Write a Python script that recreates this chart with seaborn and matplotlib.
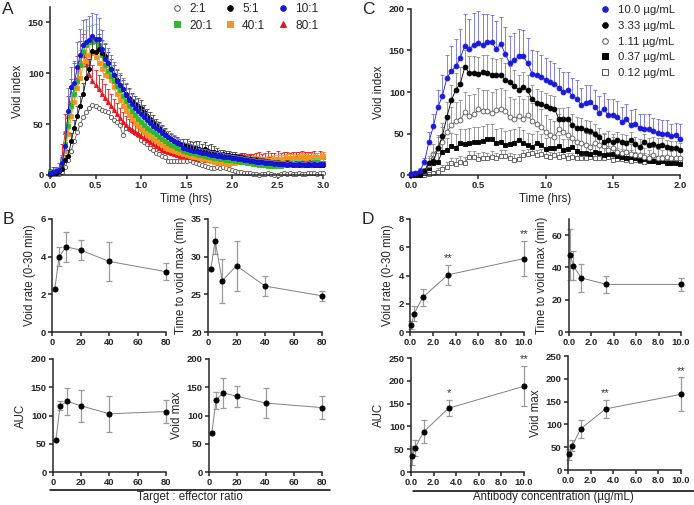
import numpy as np
import matplotlib
matplotlib.use("Agg")
import matplotlib.pyplot as plt
import seaborn as sns
from matplotlib.lines import Line2D

# ---------------- Panel A: void index over time (target:effector ratio) ----------------
minutes_a = list(range(0, 182, 2))  # one reading every 2 min, 0-180 min

void_2to1 = [0, 1, 1, 1, 3, 8, 15, 24, 33, 42,
             50, 57, 62, 66, 69, 68, 66, 64, 63, 62,
             57, 54, 52, 49, 39, 46, 45, 43, 41, 39,
             34, 32, 30, 27, 25, 22, 21, 19, 18, 14,
             14, 14, 14, 14, 14, 14, 15, 13, 12, 11,
             10, 9, 8, 7, 7, 8, 7, 8, 7, 6,
             5, 4, 3, 3, 2, 2, 2, 1, 1, 0,
             1, 1, 2, 1, 0, 0, 1, 2, 1, 2,
             1, 1, 2, 1, 1, 2, 2, 2, 1, 2,
             2]
void_5to1 = [1, 2, 2, 4, 6, 15, 19, 33, 46, 58,
             68, 80, 95, 104, 122, 121, 124, 120, 117, 110,
             104, 98, 93, 88, 84, 80, 76, 73, 70, 68,
             66, 62, 58, 55, 52, 49, 46, 43, 40, 37,
             35, 33, 32, 30, 29, 29, 28, 27, 27, 26,
             25, 26, 24, 23, 23, 22, 21, 21, 20, 20,
             19, 19, 18, 18, 17, 16, 16, 15, 15, 14,
             14, 13, 13, 12, 12, 12, 11, 11, 12, 11,
             10, 11, 10, 11, 10, 10, 11, 10, 10, 10,
             10]
void_10to1 = [2, 3, 4, 5, 12, 28, 63, 86, 90, 106,
              118, 128, 131, 133, 137, 134, 134, 124, 114, 110,
              104, 98, 92, 88, 84, 79, 74, 70, 66, 63,
              60, 57, 54, 51, 48, 46, 44, 41, 39, 37,
              35, 33, 31, 30, 27, 26, 25, 24, 24, 23,
              22, 22, 21, 20, 20, 19, 19, 18, 18, 18,
              17, 17, 16, 16, 15, 15, 14, 14, 13, 13,
              13, 12, 12, 12, 11, 11, 11, 11, 10, 11,
              10, 10, 11, 10, 10, 11, 10, 11, 10, 11,
              11]
void_20to1 = [3, 3, 4, 5, 14, 30, 48, 68, 80, 92,
              108, 121, 128, 131, 131, 132, 128, 118, 108, 102,
              97, 92, 87, 83, 78, 73, 68, 63, 59, 55,
              52, 49, 46, 44, 42, 40, 37, 35, 33, 31,
              29, 28, 27, 26, 24, 23, 22, 22, 21, 20,
              20, 19, 18, 18, 17, 17, 16, 16, 15, 15,
              15, 14, 14, 13, 13, 12, 12, 11, 11, 10,
              10, 10, 9, 9, 9, 9, 9, 10, 10, 10,
              11, 11, 11, 12, 12, 12, 12, 13, 13, 12,
              12]
void_40to1 = [2, 2, 3, 4, 10, 24, 40, 58, 72, 85,
              95, 108, 112, 118, 120, 116, 110, 104, 98, 97,
              93, 86, 80, 74, 68, 63, 59, 55, 51, 48,
              45, 42, 39, 37, 35, 33, 31, 29, 27, 26,
              25, 24, 23, 22, 21, 20, 19, 18, 18, 17,
              16, 16, 15, 14, 13, 13, 12, 12, 11, 11,
              12, 12, 13, 13, 14, 14, 14, 15, 15, 15,
              14, 14, 15, 15, 16, 16, 16, 16, 17, 17,
              17, 16, 17, 18, 17, 18, 18, 17, 18, 18,
              19]
void_80to1 = [3, 4, 4, 6, 18, 42, 58, 72, 86, 95,
              112, 118, 110, 98, 92, 88, 84, 80, 76, 72,
              68, 64, 60, 56, 52, 49, 46, 44, 42, 40,
              38, 36, 34, 32, 30, 28, 27, 25, 24, 23,
              22, 21, 20, 19, 19, 18, 18, 17, 17, 16,
              16, 15, 15, 15, 14, 14, 14, 14, 14, 15,
              15, 15, 15, 16, 16, 16, 15, 16, 16, 17,
              16, 16, 17, 17, 16, 17, 17, 17, 18, 16,
              17, 18, 17, 17, 18, 17, 18, 18, 17, 18,
              18]

err_2to1 = [0] * len(void_2to1)  # no error bars shown for 2:1
err_5to1 = [1, 1, 1, 2, 3, 5, 6, 8, 8, 10,
            10, 10, 12, 10, 12, 12, 14, 13, 12, 11,
            10, 10, 10, 10, 9, 9, 9, 8, 8, 8,
            8, 7, 7, 7, 7, 6, 6, 6, 6, 6,
            5, 5, 5, 5, 6, 6, 5, 5, 6, 7,
            5, 6, 5, 7, 5, 5, 4, 4, 4, 4,
            4, 4, 3, 4, 3, 3, 4, 3, 3, 3,
            3, 3, 3, 3, 3, 3, 3, 3, 3, 3,
            3, 3, 3, 3, 3, 3, 3, 3, 3, 3,
            3]
err_10to1 = [2, 2, 3, 3, 8, 15, 22, 20, 22, 25,
             25, 24, 22, 23, 22, 24, 20, 18, 16, 15,
             14, 13, 12, 12, 11, 11, 10, 10, 9, 9,
             9, 8, 8, 8, 7, 7, 7, 7, 6, 6,
             6, 6, 5, 5, 5, 5, 5, 5, 5, 4,
             4, 4, 4, 4, 4, 4, 4, 4, 3, 3,
             3, 3, 3, 3, 3, 3, 3, 3, 3, 3,
             3, 3, 3, 3, 3, 3, 3, 3, 3, 3,
             3, 3, 3, 3, 3, 3, 3, 3, 3, 3,
             3]
err_20to1 = [2, 2, 2, 3, 6, 10, 12, 12, 14, 14,
             15, 15, 14, 15, 16, 16, 15, 14, 12, 11,
             10, 9, 9, 9, 8, 8, 8, 7, 7, 7,
             7, 6, 6, 6, 6, 6, 5, 5, 5, 5,
             5, 5, 4, 4, 4, 4, 5, 4, 5, 4,
             4, 4, 4, 4, 4, 4, 4, 4, 3, 3,
             3, 4, 3, 4, 3, 4, 3, 4, 3, 4,
             4, 4, 4, 4, 4, 4, 4, 4, 4, 4,
             4, 4, 4, 4, 4, 4, 4, 4, 4, 4,
             4]
err_40to1 = [2, 2, 2, 3, 6, 10, 12, 14, 15, 15,
             16, 16, 15, 15, 14, 14, 13, 13, 12, 12,
             11, 10, 10, 9, 9, 8, 8, 8, 7, 7,
             7, 6, 6, 6, 6, 5, 5, 5, 5, 5,
             5, 4, 4, 4, 4, 4, 4, 4, 4, 4,
             4, 4, 4, 3, 3, 3, 3, 3, 3, 3,
             3, 3, 3, 3, 3, 4, 4, 4, 4, 4,
             4, 4, 4, 4, 4, 4, 4, 4, 4, 4,
             4, 4, 4, 4, 4, 4, 4, 4, 4, 4,
             4]
err_80to1 = [3, 4, 4, 6, 12, 18, 20, 22, 24, 22,
             20, 20, 18, 16, 16, 15, 14, 14, 13, 12,
             12, 11, 11, 10, 10, 9, 9, 8, 8, 8,
             7, 7, 7, 6, 6, 6, 6, 5, 5, 5,
             5, 5, 5, 5, 5, 4, 4, 4, 4, 4,
             4, 4, 4, 4, 4, 4, 5, 5, 5, 5,
             5, 5, 5, 5, 6, 5, 6, 5, 6, 6,
             5, 6, 7, 5, 6, 7, 5, 6, 5, 6,
             6, 5, 6, 7, 5, 6, 5, 6, 5, 6,
             5]

# ---------------- Panel C: void index over time (antibody dose) ----------------
minutes_c = list(range(0, 122, 2))  # one reading every 2 min, 0-120 min

void_10ug = [1, 3, 5, 16, 40, 59, 82, 95, 117, 125,
             131, 141, 156, 152, 157, 159, 157, 160, 160, 152,
             158, 146, 135, 138, 143, 143, 135, 122, 121, 118,
             115, 112, 110, 105, 100, 102, 95, 92, 84, 87,
             88, 82, 75, 79, 72, 72, 70, 64, 68, 60,
             62, 57, 56, 56, 53, 51, 50, 50, 47, 48,
             43]
void_333ug = [1, 1, 1, 5, 15, 17, 32, 47, 70, 90,
              103, 110, 130, 123, 123, 122, 124, 123, 121, 120,
              121, 115, 112, 107, 103, 106, 102, 91, 87, 85,
              83, 81, 80, 67, 67, 68, 60, 57, 57, 54,
              53, 50, 46, 40, 42, 40, 42, 40, 38, 42,
              37, 34, 40, 36, 37, 35, 36, 34, 33, 33,
              30]
void_111ug = [1, 1, 2, 4, 12, 25, 32, 40, 52, 60,
              65, 66, 76, 71, 73, 79, 77, 77, 75, 78,
              79, 77, 70, 68, 71, 68, 72, 65, 62, 58,
              52, 48, 46, 55, 52, 48, 44, 40, 38, 36,
              34, 38, 36, 35, 30, 33, 28, 27, 28, 25,
              24, 24, 22, 20, 24, 21, 20, 22, 20, 21,
              21]
void_037ug = [0, 0, 0, 2, 8, 14, 16, 28, 30, 35,
              33, 38, 37, 39, 40, 40, 41, 43, 43, 38,
              40, 36, 37, 39, 42, 38, 36, 34, 38, 36,
              31, 33, 32, 35, 30, 31, 34, 29, 26, 27,
              25, 28, 27, 24, 25, 25, 23, 22, 21, 22,
              20, 18, 19, 17, 17, 16, 17, 15, 15, 15,
              13]
void_012ug = [0, 0, 0, 0, 1, 2, 4, 7, 10, 14,
              13, 16, 15, 22, 22, 19, 21, 20, 22, 20,
              23, 23, 20, 18, 19, 24, 25, 26, 24, 25,
              23, 22, 24, 22, 23, 21, 22, 21, 20, 21,
              22, 20, 21, 20, 22, 18, 19, 19, 18, 17,
              18, 17, 16, 18, 17, 16, 17, 16, 17, 16,
              16]

err_10ug = [1, 2, 3, 5, 12, 15, 20, 25, 28, 30,
            33, 35, 38, 36, 38, 39, 37, 34, 33, 33,
            32, 32, 32, 33, 33, 32, 30, 28, 28, 27,
            26, 25, 25, 24, 24, 22, 22, 22, 21, 21,
            20, 20, 20, 20, 19, 19, 19, 18, 18, 18,
            18, 17, 17, 17, 16, 16, 16, 16, 15, 15,
            18]
err_333ug = [1, 1, 1, 3, 8, 10, 14, 16, 18, 18,
             20, 20, 20, 20, 20, 20, 20, 21, 20, 20,
             20, 20, 19, 19, 18, 18, 18, 17, 17, 16,
             16, 15, 15, 14, 14, 14, 13, 13, 12, 12,
             12, 12, 11, 11, 11, 10, 10, 10, 10, 10,
             9, 9, 9, 9, 9, 9, 8, 8, 8, 8,
             8]
err_111ug = [1, 1, 2, 3, 8, 12, 16, 18, 20, 22,
             23, 24, 24, 25, 25, 26, 26, 26, 25, 26,
             26, 25, 24, 24, 24, 23, 23, 22, 22, 21,
             20, 19, 19, 18, 18, 17, 17, 16, 16, 15,
             15, 15, 14, 14, 13, 13, 13, 12, 12, 12,
             11, 11, 11, 10, 10, 10, 10, 9, 9, 9,
             9]
err_037ug = [0, 0, 1, 2, 5, 8, 10, 13, 15, 16,
             17, 17, 18, 18, 18, 18, 18, 18, 18, 17,
             17, 17, 17, 16, 16, 16, 15, 15, 15, 14,
             14, 14, 13, 13, 13, 12, 12, 12, 11, 11,
             11, 10, 10, 10, 10, 9, 9, 9, 9, 8,
             8, 8, 8, 8, 7, 7, 7, 7, 7, 6,
             6]
err_012ug = [0, 0, 0, 1, 2, 3, 4, 5, 6, 6,
             7, 7, 7, 7, 7, 7, 7, 7, 7, 7,
             7, 7, 7, 7, 6, 6, 6, 6, 6, 6,
             6, 6, 6, 6, 5, 5, 5, 5, 5, 5,
             5, 5, 5, 5, 5, 4, 4, 4, 4, 4,
             4, 4, 4, 4, 4, 4, 4, 4, 4, 4,
             4]

# ---------------- Panel B: summary vs target:effector ratio ----------------
ratio = [2, 5, 10, 20, 40, 80]
b_void_rate = [2.3, 4.0, 4.52, 4.35, 3.75, 3.2]
b_void_rate_err = [0, 0.5, 0.8, 0.55, 1.02, 0.45]
b_time_max = [28.4, 32.1, 26.8, 28.8, 26.1, 24.8]
b_time_max_err = [0, 1.8, 2.9, 3.3, 1.3, 0.65]
b_auc = [56, 117, 125, 117, 103, 107]
b_auc_err = [0, 8, 24, 28, 32, 20]
b_void_max = [69, 127, 140, 134, 122, 114]
b_void_max_err = [0, 15, 26, 19, 27, 21]

# ---------------- Panel D: summary vs antibody concentration ----------------
conc = [0.12, 0.37, 1.11, 3.33, 10.0]
d_void_rate = [0.5, 1.3, 2.45, 4.05, 5.2]
d_void_rate_err = [0.3, 0.55, 0.6, 0.7, 1.25]
d_void_rate_sig = ["", "", "", "**", "**"]
d_time_max = [48, 41, 33.5, 29.5, 29.5]
d_time_max_err = [16, 9, 8.5, 5.5, 3.8]
d_time_max_sig = ["", "", "", "", ""]
d_auc = [36, 53, 88, 140, 188]
d_auc_err = [20, 17, 25, 18, 44]
d_auc_sig = ["", "", "", "*", "**"]
d_void_max = [35, 53, 90, 134, 166]
d_void_max_err = [12, 12, 20, 19, 37]
d_void_max_sig = ["", "", "", "**", "**"]

# ---------------- style ----------------
sns.set_style("ticks")
plt.rcParams["font.family"] = ["Liberation Sans", "DejaVu Sans"]
plt.rcParams["axes.linewidth"] = 1.1

W, H = 694, 505
fig = plt.figure(figsize=(W / 100, H / 100), dpi=100)


def add_ax(x0, x1, ytop, ybot):
    # axes placed in pixel coordinates of the reference
    return fig.add_axes([x0 / W, 1 - ybot / H, (x1 - x0) / W, (ybot - ytop) / H])


def style_ax(ax, xlim, xticks, xlabels, ylim, yticks, ylabel, xlabel=None):
    sns.despine(ax=ax)
    ax.set_xlim(*xlim)
    ax.set_ylim(*ylim)
    ax.set_xticks(xticks)
    ax.set_xticklabels(xlabels)
    ax.set_yticks(yticks)
    ax.set_yticklabels([str(t) for t in yticks])
    ax.tick_params(direction="out", length=3, width=1.1, pad=1.5, labelsize=6.8)
    for lbl in ax.get_xticklabels() + ax.get_yticklabels():
        lbl.set_fontweight("bold")
    ax.set_ylabel(ylabel, fontsize=8.3, labelpad=3)
    if xlabel:
        ax.set_xlabel(xlabel, fontsize=8.3, labelpad=2)


def time_series(ax, t, y, err, color, marker, face, edge, ecolor, ms, z):
    yerr = [np.zeros(len(err)), err]
    ax.errorbar(t, y, yerr=yerr, fmt="none", ecolor=ecolor, elinewidth=0.6,
                capsize=1.5, capthick=0.6, zorder=z, clip_on=False)
    sns.lineplot(x=t, y=y, ax=ax, color=color, linewidth=0.6, marker=marker,
                 markersize=ms, markerfacecolor=face, markeredgecolor=edge,
                 markeredgewidth=0.6, errorbar=None, zorder=z + 0.5, clip_on=False)


def summary(ax, x, y, err, sig, star_off):
    keep = [i for i in range(len(err)) if err[i] > 0]
    ax.errorbar([x[i] for i in keep], [y[i] for i in keep], yerr=[err[i] for i in keep],
                fmt="none", ecolor="#9a9a9a", elinewidth=0.9, capsize=2.3, capthick=0.9,
                zorder=2, clip_on=False)
    sns.lineplot(x=x, y=y, ax=ax, color="#808080", linewidth=0.7, marker="o", markersize=3.6,
                 markerfacecolor="black", markeredgecolor="black", errorbar=None,
                 zorder=3, clip_on=False)
    for xi, yi, ei, s in zip(x, y, err, sig):
        if s:
            ax.text(xi, yi + ei + star_off, s, ha="center", va="bottom", fontsize=8, color="#333333")


# ---------- A ----------
t_a = [m / 60 for m in minutes_a]
axA = add_ax(50, 323, 7, 175)
blue, green, orange, red = "#1414d8", "#2eb82e", "#f7941d", "#e8141e"
time_series(axA, t_a, void_2to1, err_2to1, "#555555", "o", "white", "#555555", "#999999", 3, 1)
time_series(axA, t_a, void_80to1, err_80to1, red, "^", red, red, red, 3, 2)
time_series(axA, t_a, void_40to1, err_40to1, orange, "s", orange, orange, orange, 2.7, 3)
time_series(axA, t_a, void_20to1, err_20to1, green, "s", green, green, "#6fcf6f", 2.7, 4)
time_series(axA, t_a, void_5to1, err_5to1, "black", "o", "black", "black", "#444444", 3, 5)
time_series(axA, t_a, void_10to1, err_10to1, blue, "o", blue, blue, "#6a6ae8", 3, 6)
style_ax(axA, (0, 3), [0, 0.5, 1, 1.5, 2, 2.5, 3], ["0.0", "0.5", "1.0", "1.5", "2.0", "2.5", "3.0"],
         (0, 165), [0, 50, 100, 150], "Void index", "Time (hrs)")

a_labels = ["2:1", "20:1", "5:1", "40:1", "10:1", "80:1"]
a_style = [("o", "white", "#555555"), ("s", green, green), ("o", "black", "black"),
           ("s", orange, orange), ("o", blue, blue), ("^", red, red)]
a_handles = [Line2D([], [], ls="none", marker=m, markersize=4, markerfacecolor=f,
                    markeredgecolor=e, markeredgewidth=0.7) for m, f, e in a_style]
axA.legend(a_handles, a_labels, ncol=3, loc="upper right", bbox_to_anchor=(1.0, 1.05),
           frameon=False, fontsize=8.6, handlelength=0.8, handletextpad=0.6,
           columnspacing=1.1, labelspacing=0.35, borderaxespad=0)

# ---------- C ----------
t_c = [m / 60 for m in minutes_c]
axC = add_ax(411, 680, 9, 175)
grey_e = "#8a8a8a"
time_series(axC, t_c, void_012ug, err_012ug, "#555555", "s", "white", "#555555", grey_e, 3.2, 1)
time_series(axC, t_c, void_037ug, err_037ug, "black", "s", "black", "black", grey_e, 3.2, 2)
time_series(axC, t_c, void_111ug, err_111ug, "#555555", "o", "white", "#555555", grey_e, 3.5, 3)
time_series(axC, t_c, void_333ug, err_333ug, "black", "o", "black", "black", grey_e, 3.5, 4)
time_series(axC, t_c, void_10ug, err_10ug, "#1a1adb", "o", "#1a1adb", "#1a1adb", "#6b6be6", 3.5, 5)
style_ax(axC, (0, 2), [0, 0.5, 1, 1.5, 2], ["0.0", "0.5", "1.0", "1.5", "2.0"],
         (0, 200), [0, 50, 100, 150, 200], "Void index", "Time (hrs)")

c_labels = ["10.0 µg/mL", "3.33 µg/mL", "1.11 µg/mL", "0.37 µg/mL", "0.12 µg/mL"]
c_style = [("o", "#1a1adb", "#1a1adb"), ("o", "black", "black"), ("o", "white", "#555555"),
           ("s", "black", "black"), ("s", "white", "#555555")]
c_handles = [Line2D([], [], ls="none", marker=m, markersize=4, markerfacecolor=f,
                    markeredgecolor=e, markeredgewidth=0.7) for m, f, e in c_style]
axC.legend(c_handles, c_labels, loc="upper right", bbox_to_anchor=(1.0, 1.05),
           frameon=False, fontsize=8.2, handlelength=0.8, handletextpad=0.8,
           labelspacing=0.5, borderaxespad=0)

# ---------- B ----------
b_xt = [0, 20, 40, 60, 80]
b_xl = [str(v) for v in b_xt]
ax = add_ax(52, 166, 219, 332)
summary(ax, ratio, b_void_rate, b_void_rate_err, [""] * 6, 0)
style_ax(ax, (0, 80), b_xt, b_xl, (0, 6), [0, 2, 4, 6], "Void rate (0-30 min)")
ax = add_ax(208, 322, 219, 332)
summary(ax, ratio, b_time_max, b_time_max_err, [""] * 6, 0)
style_ax(ax, (0, 80), b_xt, b_xl, (20, 35), [20, 25, 30, 35], "Time to void max (min)")
ax = add_ax(53, 166, 359, 472)
summary(ax, ratio, b_auc, b_auc_err, [""] * 6, 0)
style_ax(ax, (0, 80), b_xt, b_xl, (0, 200), [0, 50, 100, 150, 200], "AUC")
ax = add_ax(209, 322, 359, 472)
summary(ax, ratio, b_void_max, b_void_max_err, [""] * 6, 0)
style_ax(ax, (0, 80), b_xt, b_xl, (0, 200), [0, 50, 100, 150, 200], "Void max")

# ---------- D ----------
d_xt = [0, 2, 4, 6, 8, 10]
d_xl = ["0.0", "2.0", "4.0", "6.0", "8.0", "10.0"]
ax = add_ax(410, 524, 219, 332)
summary(ax, conc, d_void_rate, d_void_rate_err, d_void_rate_sig, 0.12)
style_ax(ax, (0, 10), d_xt, d_xl, (0, 8), [0, 2, 4, 6, 8], "Void rate (0-30 min)")
ax = add_ax(569, 681, 219, 332)
summary(ax, conc, d_time_max, d_time_max_err, d_time_max_sig, 1)
style_ax(ax, (0, 10), d_xt, d_xl, (0, 70), [0, 20, 40, 60], "Time to void max (min)")
ax = add_ax(411, 524, 358, 472)
summary(ax, conc, d_auc, d_auc_err, d_auc_sig, 4)
style_ax(ax, (0, 10), d_xt, d_xl, (0, 250), [0, 50, 100, 150, 200, 250], "AUC")
ax = add_ax(568, 681, 356, 470)
summary(ax, conc, d_void_max, d_void_max_err, d_void_max_sig, 4)
style_ax(ax, (0, 10), d_xt, d_xl, (0, 250), [0, 50, 100, 150, 200, 250], "Void max")

# ---------- group labels and panel letters ----------
fig.add_artist(Line2D([50 / W, 330 / W], [1 - 490 / H] * 2, transform=fig.transFigure, color="black", lw=1.1))
fig.add_artist(Line2D([413 / W, 694 / W], [1 - 491 / H] * 2, transform=fig.transFigure, color="black", lw=1.1))
fig.text(190 / W, 1 - 497 / H, "Target : effector ratio", ha="center", va="center", fontsize=8.3)
fig.text(553 / W, 1 - 497 / H, "Antibody concentration (µg/mL)", ha="center", va="center", fontsize=8.3)

for letter, px, py in [("A", 2, 2), ("B", 3, 212), ("C", 362, 2), ("D", 362, 212)]:
    fig.text(px / W, 1 - py / H, letter, ha="left", va="top", fontsize=12.5)

fig.savefig("out.png", dpi=100)
